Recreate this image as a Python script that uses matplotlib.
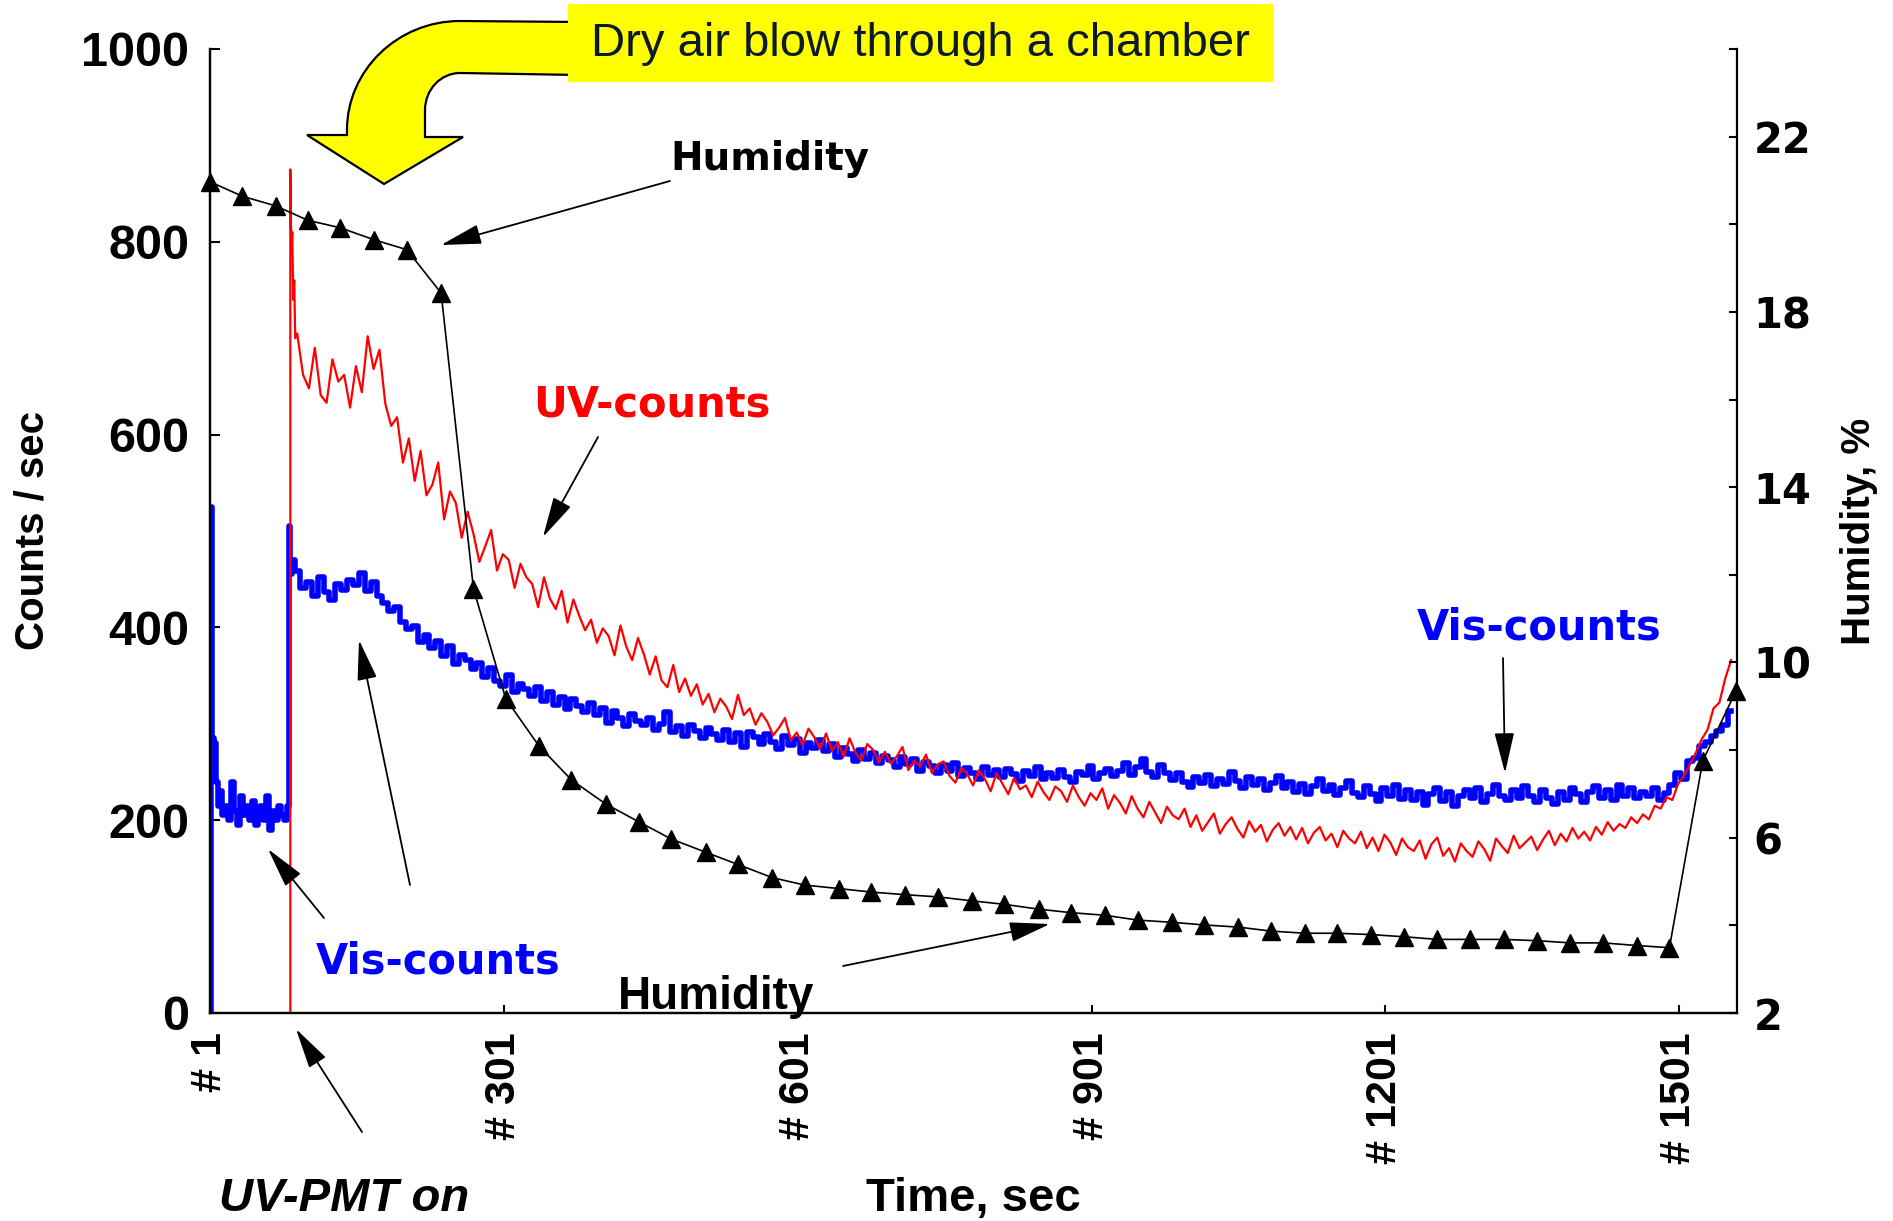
import numpy as np
import matplotlib
matplotlib.use('Agg')
import matplotlib.pyplot as plt
from matplotlib.path import Path
from matplotlib.patches import PathPatch, Rectangle, FancyArrowPatch
from matplotlib.transforms import Affine2D
from matplotlib import font_manager as fm

# ---------------- data ----------------
x_ticks = [1, 301, 601, 901, 1201, 1501]
x_ticklabels = ['# 1', '# 301', '# 601', '# 901', '# 1201', '# 1501']
y_ticks = [0, 200, 400, 600, 800, 1000]
hum_ticks = [2, 4, 6, 8, 10, 12, 14, 16, 18, 20, 22, 24]
hum_ticklabels = ['2', '', '6', '', '10', '', '14', '', '18', '', '22', '']

# Vis-counts (blue): early part read point by point, then every 6 s
vis_time_early = [2, 2, 4, 6, 8, 10, 12, 15, 18, 21, 24, 27, 30, 33, 36, 39, 42, 45, 48,
                  51, 54, 57, 60, 63, 66, 69, 72, 75, 78, 81, 82, 84, 86]
vis_counts_early = [0, 525, 285, 280, 240, 215, 230, 205, 215, 200, 240, 210, 195, 225, 205,
                    215, 200, 220, 195, 210, 215, 200, 225, 190, 210, 200, 215, 205, 200, 215,
                    505, 455, 470]
sample_time = np.arange(90, 1557, 6)
vis_counts = [
    458, 441, 447, 433, 452, 437, 428, 445, 439, 449,
    444, 456, 438, 447, 433, 425, 417, 421, 406, 398,
    401, 385, 392, 379, 386, 370, 381, 362, 371, 366,
    357, 363, 349, 358, 344, 339, 351, 333, 341, 336,
    329, 338, 324, 333, 319, 328, 315, 326, 318, 312,
    322, 309, 316, 301, 313, 306, 298, 310, 303, 299,
    306, 294, 300, 312, 291, 298, 287, 299, 293, 285,
    296, 289, 283, 294, 281, 290, 276, 292, 286, 279,
    289, 281, 274, 287, 278, 284, 270, 280, 275, 283,
    272, 279, 266, 275, 269, 261, 273, 264, 270, 259,
    267, 262, 255, 266, 258, 263, 251, 260, 256, 249,
    257, 251, 259, 246, 254, 249, 243, 255, 247, 252,
    245, 253, 248, 241, 251, 246, 255, 243, 249, 244,
    252, 245, 240, 250, 247, 256, 243, 249, 253, 246,
    251, 259, 247, 255, 264, 250, 245, 257, 249, 242,
    249, 240, 234, 245, 239, 247, 235, 243, 238, 250,
    241, 233, 245, 236, 243, 231, 239, 246, 233, 240,
    229, 238, 227, 235, 243, 230, 237, 226, 233, 241,
    228, 224, 235, 227, 220, 233, 225, 237, 222, 231,
    221, 229, 216, 227, 233, 220, 229, 215, 225, 231,
    223, 233, 219, 227, 237, 225, 221, 231, 223, 235,
    225, 219, 231, 223, 217, 229, 221, 233, 227, 219,
    229, 235, 223, 231, 221, 237, 225, 233, 223, 229,
    225, 233, 221, 228, 237, 249, 243, 261, 265, 277,
    281, 287, 293, 299, 313]

# UV-counts (red): starts when the UV-PMT is switched on
uv_time_early = [83, 83, 84, 85, 86, 87, 88]
uv_counts_early = [0, 875, 790, 810, 740, 760, 700]
uv_counts = [
    705, 662, 648, 690, 641, 633, 678, 655, 662, 628,
    671, 644, 702, 668, 688, 632, 609, 618, 571, 596,
    552, 583, 537, 548, 571, 512, 541, 529, 493, 520,
    497, 468, 484, 501, 459, 476, 470, 441, 466, 452,
    445, 421, 452, 430, 419, 438, 405, 429, 412, 397,
    408, 384, 399, 391, 371, 402, 380, 366, 389, 372,
    351, 370, 345, 338, 361, 333, 347, 329, 341, 320,
    331, 312, 326, 318, 305, 330, 309, 316, 299, 311,
    302, 288, 296, 306, 283, 291, 278, 295, 286, 274,
    290, 272, 281, 266, 285, 270, 262, 279, 273, 260,
    271, 259, 266, 276, 252, 262, 256, 268, 249, 258,
    261, 246, 239, 254, 248, 236, 252, 243, 230, 249,
    238, 227, 244, 232, 236, 224, 240, 229, 221, 235,
    230, 219, 236, 224, 215, 228, 221, 233, 212, 226,
    218, 207, 225, 212, 203, 219, 208, 197, 214, 205,
    201, 212, 193, 205, 189, 198, 207, 186, 196, 203,
    191, 182, 199, 188, 195, 178, 190, 197, 184, 193,
    180, 192, 176, 187, 193, 179, 186, 172, 189, 181,
    176, 188, 171, 182, 168, 185, 177, 164, 181, 172,
    168, 179, 160, 175, 182, 163, 171, 157, 176, 168,
    162, 178, 170, 158, 181, 173, 166, 184, 171, 177,
    183, 169, 180, 189, 174, 186, 178, 192, 181, 188,
    179, 193, 185, 198, 189, 196, 192, 203, 197, 206,
    201, 215, 212, 224, 221, 238, 246, 258, 270, 284,
    294, 316, 322, 347, 366]

# Humidity (%), triangles
hum_time = [1, 34, 68, 101, 134, 168, 202, 237, 270, 303,
            337, 370, 405, 439, 472, 507, 540, 575, 608, 643,
            676, 711, 744, 779, 812, 847, 880, 915, 948, 983,
            1016, 1051, 1084, 1119, 1152, 1186, 1220, 1254, 1287, 1322,
            1356, 1390, 1423, 1458, 1491, 1525, 1559]
humidity = [20.97, 20.64, 20.42, 20.09, 19.92, 19.65, 19.42, 18.43, 11.68, 9.17,
            8.09, 7.32, 6.77, 6.36, 5.97, 5.67, 5.39, 5.09, 4.92, 4.84,
            4.76, 4.70, 4.65, 4.56, 4.48, 4.37, 4.29, 4.23, 4.12, 4.07,
            4.01, 3.96, 3.87, 3.82, 3.82, 3.79, 3.74, 3.68, 3.68, 3.68,
            3.65, 3.60, 3.60, 3.54, 3.49, 7.75, 9.35]

# ---------------- fonts ----------------
NARROW = ['Liberation Sans']
WIDE = ['DejaVu Sans']

# ---------------- figure ----------------
W, H = 1893, 1221
fig = plt.figure(figsize=(W / 100, H / 100), dpi=100, facecolor='white')


def P(x, y):
    return (x / W, 1 - y / H)


ax = fig.add_axes([210 / W, 1 - 1013 / H, (1737 - 210) / W, (1013 - 49) / H])
ax2 = ax.twinx()

vis_t = list(vis_time_early) + list(sample_time)
vis_v = list(vis_counts_early) + list(vis_counts)
uv_t = list(uv_time_early) + list(sample_time)
uv_v = list(uv_counts_early) + list(uv_counts)

ax.plot(vis_t, vis_v, color='#0000ff', lw=4.0, drawstyle='steps-mid', zorder=2)
ax.plot(uv_t, uv_v, color='#ff0000', lw=1.6, zorder=3)
ax2.plot(hum_time, humidity, color='black', lw=1.2, marker='^', ms=13,
         markerfacecolor='black', markeredgecolor='black', clip_on=False, zorder=4)

ax.set_xlim(1, 1560)
ax.set_ylim(0, 1000)
ax2.set_ylim(2, 24)

for a in (ax, ax2):
    a.spines['top'].set_visible(False)
    for s in a.spines.values():
        s.set_linewidth(1.6)
ax.spines['right'].set_visible(False)

ax.set_xticks(x_ticks)
ax.set_xticklabels(x_ticklabels, rotation=90, fontfamily=NARROW, fontweight='bold',
                   fontsize=31)
ax.set_yticks(y_ticks)
ax.set_yticklabels([str(v) for v in y_ticks], fontfamily=NARROW,
                   fontweight='bold', fontsize=35)
ax.tick_params(axis='x', direction='in', length=6, width=1.5, pad=14)
ax.tick_params(axis='y', direction='in', length=7, width=1.5, pad=15)

ax2.set_yticks(hum_ticks)
ax2.set_yticklabels(hum_ticklabels, fontfamily=WIDE, fontweight='bold', fontsize=30)
ax2.tick_params(axis='y', direction='in', length=6, width=1.5, pad=12)

# axis titles
fig.text(*P(33, 531), 'Counts / sec', rotation=90, ha='center', va='center',
         fontfamily=NARROW, fontweight='bold', fontsize=29)
fig.text(*P(1859, 531), 'Humidity, %', rotation=90, ha='center', va='center',
         fontfamily=NARROW, fontweight='bold', fontsize=29)
fig.text(*P(973, 1199), 'Time, sec', ha='center', va='center',
         fontfamily=NARROW, fontweight='bold', fontsize=34)

# ---------------- yellow bent arrow ----------------
tr = Affine2D().scale(1 / W, -1 / H).translate(0, 1) + fig.transFigure
verts = [(580, 22), (460, 21), (397.6, 21), (347, 70.4), (347, 130), (347, 135),
         (307, 135), (384, 184), (463, 137), (425, 137), (425, 110),
         (425, 89.6), (440.7, 73), (460, 73), (580, 75), (580, 22)]
codes = [Path.MOVETO, Path.LINETO, Path.CURVE4, Path.CURVE4, Path.CURVE4, Path.LINETO,
         Path.LINETO, Path.LINETO, Path.LINETO, Path.LINETO, Path.LINETO,
         Path.CURVE4, Path.CURVE4, Path.CURVE4, Path.LINETO, Path.CLOSEPOLY]
fig.add_artist(PathPatch(Path(verts, codes), transform=tr, facecolor='#ffff00',
                         edgecolor='black', lw=1.6, zorder=10))
fig.add_artist(Rectangle(P(568, 82), (1273 - 568) / W, (82 - 4) / H,
                         transform=fig.transFigure, facecolor='#ffff00',
                         edgecolor='none', zorder=11))
fig.text(*P(920, 44), 'Dry air blow through a chamber', ha='center', va='center',
         color='#0c1a2c', fontfamily=NARROW, fontsize=34, zorder=12)


# ---------------- annotations ----------------
def arrow(tail, tip):
    fig.add_artist(FancyArrowPatch(P(*tail), P(*tip), transform=fig.transFigure,
                                   arrowstyle='-|>,head_length=0.9,head_width=0.22',
                                   mutation_scale=28, lw=1.3, color='black',
                                   shrinkA=0, shrinkB=0, zorder=9))


fig.text(*P(770, 159), 'Humidity', ha='center', va='center', color='black',
         fontfamily=WIDE, fontweight='bold', fontsize=28)
arrow((670, 181), (441, 245))

fig.text(*P(652, 404), 'UV-counts', ha='center', va='center', color='#ff0000',
         fontfamily=WIDE, fontweight='bold', fontsize=30)
arrow((598, 437), (543, 537))

fig.text(*P(1539, 628), 'Vis-counts', ha='center', va='center', color='#0000ff',
         fontfamily=WIDE, fontweight='bold', fontsize=30)
arrow((1503, 658), (1505, 773))

fig.text(*P(438, 962), 'Vis-counts', ha='center', va='center', color='#0000ff',
         fontfamily=WIDE, fontweight='bold', fontsize=30)
arrow((324, 918), (268, 849))
arrow((410, 885), (359, 640))

fig.text(*P(716, 997), 'Humidity', ha='center', va='center', color='black',
         fontfamily=NARROW, fontweight='bold', fontsize=33)
arrow((843, 966), (1050, 924))

fig.text(*P(344, 1199), 'UV-PMT on', ha='center', va='center', color='black',
         fontfamily=NARROW, fontweight='bold', fontstyle='italic', fontsize=34)
arrow((362, 1132), (296, 1029))

fig.savefig('out.png', dpi=100, facecolor='white')
